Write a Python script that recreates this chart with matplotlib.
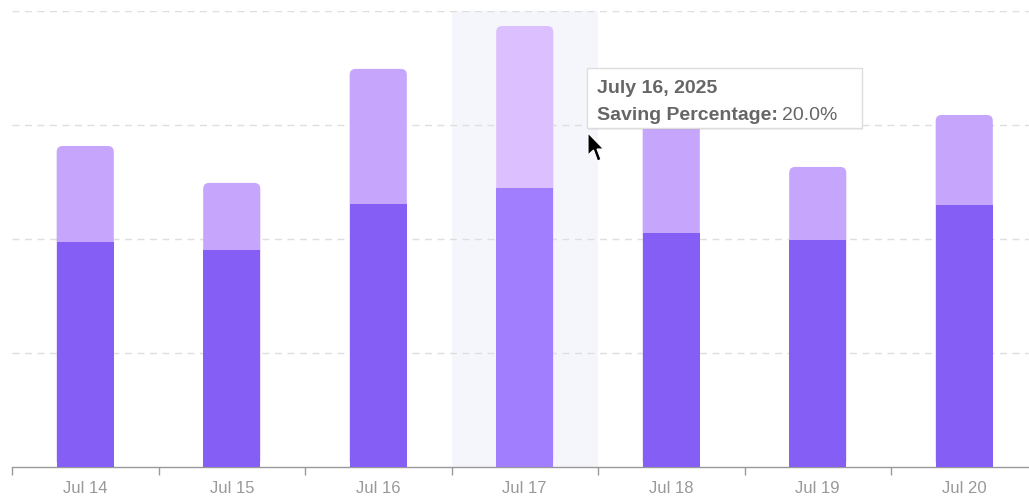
import matplotlib
matplotlib.use("Agg")
import matplotlib.pyplot as plt
from matplotlib.patches import FancyBboxPatch, Polygon, Rectangle

plt.rcParams['font.family'] = ['Liberation Sans', 'DejaVu Sans']

categories = ["Jul 14", "Jul 15", "Jul 16", "Jul 17", "Jul 18", "Jul 19", "Jul 20"]
spent = [49.3, 47.6, 57.7, 61.2, 51.3, 49.8, 57.5]
saved = [21.1, 14.7, 29.6, 35.5, 27.0, 16.0, 19.7]
highlight_index = 3
tooltip_title = "July 16, 2025"
tooltip_label = "Saving Percentage:"
tooltip_value = "20.0%"

W, H = 1029, 496
fig = plt.figure(figsize=(W / 100, H / 100), dpi=100)
fig.patch.set_facecolor("white")

ax_left, ax_right, ax_top, ax_bottom = 12, 1037.5, 11, 467
ax = fig.add_axes([ax_left / W, (H - ax_bottom) / H,
                   (ax_right - ax_left) / W, (ax_bottom - ax_top) / H])
ax.set_facecolor("none")

n = len(categories)
ax.set_xlim(-0.5, n - 0.5)
ax.set_ylim(0, 100)

c_dark = "#845ef5"
c_light = "#c5a6fc"
c_dark_h = "#a07efd"
c_light_h = "#dbbffe"

# highlight band
ax.add_patch(Rectangle((highlight_index - 0.5, 0), 1, 100, facecolor="#f5f6fb",
                       edgecolor="none", zorder=0))

# gridlines
ax.set_yticks([25, 50, 75, 100])
ax.yaxis.grid(True, linestyle=(0, (5, 4)), color="#dedede", linewidth=1)
ax.set_axisbelow(True)
ax.tick_params(axis="y", left=False, labelleft=False)

bw = 0.39
px_x = (ax_right - ax_left) / n        # px per x unit
px_y = (ax_bottom - ax_top) / 100      # px per y unit
r_px = 6
for i in range(n):
    light = c_light_h if i == highlight_index else c_light
    total = spent[i] + saved[i]
    top = FancyBboxPatch((i - bw / 2, 0), bw, total,
                         boxstyle=f"round,pad=0,rounding_size={r_px / px_x}",
                         mutation_aspect=px_x / px_y,
                         facecolor=light, edgecolor="none", zorder=2)
    ax.add_patch(top)
ax.bar(range(n), spent, width=bw, color=[c_dark_h if i == highlight_index else c_dark
                                          for i in range(n)], zorder=3)

# x axis
ax.set_xticks(range(n))
ax.set_xticklabels(categories, color="#999999", fontsize=12)
ax.tick_params(axis="x", which="major", length=0, pad=10)
ax.set_xticks([i - 0.5 for i in range(n)], minor=True)
ax.tick_params(axis="x", which="minor", length=6, color="#999999", width=1)
for s in ["top", "right", "left"]:
    ax.spines[s].set_visible(False)
ax.spines["bottom"].set_color("#999999")
ax.spines["bottom"].set_linewidth(1)

# tooltip
def fx(px):
    return px / W

def fy(py):
    return 1 - py / H

tx0, ty0, tx1, ty1 = 587, 68, 862, 128
shadow = FancyBboxPatch((fx(tx0 + 1), fy(ty1 + 2)), fx(tx1 - tx0), (ty1 - ty0) / H,
                        boxstyle="square,pad=0", transform=fig.transFigure,
                        facecolor="#000000", alpha=0.06, edgecolor="none", zorder=9)
fig.patches.append(shadow)
box = FancyBboxPatch((fx(tx0), fy(ty1)), fx(tx1 - tx0), (ty1 - ty0) / H,
                     boxstyle="square,pad=0", transform=fig.transFigure,
                     facecolor="white", edgecolor="#dddddd", linewidth=1, zorder=10)
fig.patches.append(box)
fig.text(fx(597), fy(88), tooltip_title, fontsize=14, fontweight="bold",
         color="#666666", va="center", ha="left", zorder=11)
lbl = fig.text(fx(597), fy(116), tooltip_label, fontsize=14, fontweight="bold",
               color="#666666", va="center", ha="left", zorder=11)
r = fig.canvas.get_renderer()
bb = lbl.get_window_extent(renderer=r)
fig.text(bb.x1 / W + fx(4), fy(116), tooltip_value, fontsize=14,
         color="#666666", va="center", ha="left", zorder=11)

# cursor
cx, cy = 588, 133
shape = [(0, 0), (0, 22), (5.5, 17), (9.5, 28), (13, 26.5), (9, 16), (15.5, 16)]
pts = [(fx(cx + dx), fy(cy + dy)) for dx, dy in shape]
fig.patches.append(Polygon(pts, closed=True, transform=fig.transFigure,
                           facecolor="black", edgecolor="white", linewidth=0.8,
                           zorder=12))

fig.savefig("out.png", dpi=100, facecolor="white")
